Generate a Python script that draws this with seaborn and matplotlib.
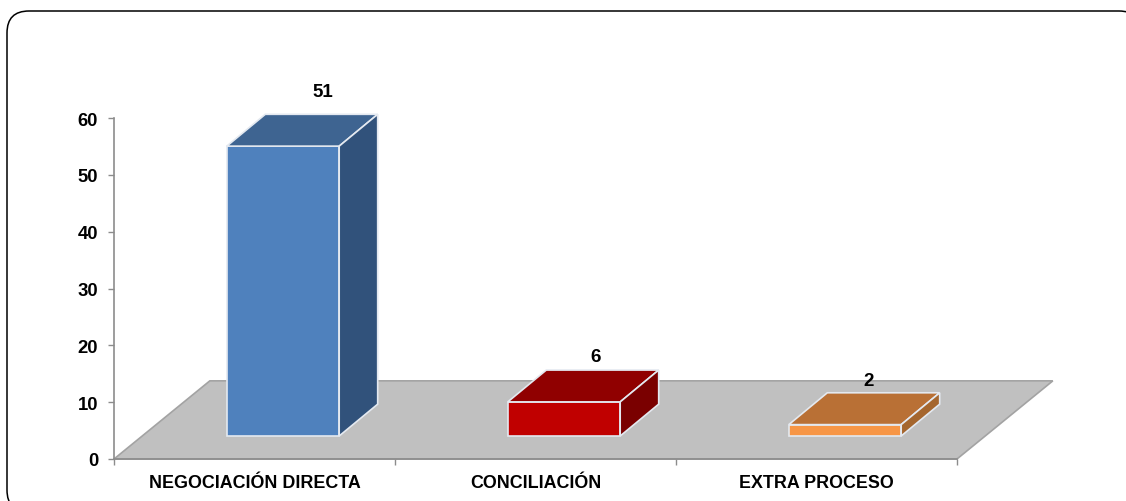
import matplotlib
matplotlib.use("Agg")
import matplotlib.pyplot as plt
from matplotlib.patches import FancyBboxPatch, Polygon
import seaborn as sns
import pandas as pd

categories = ["NEGOCIACIÓN DIRECTA", "CONCILIACIÓN", "EXTRA PROCESO"]
values = [51, 6, 2]
front_colors = ["#4f81bd", "#c00000", "#f79646"]
top_colors = ["#3e6491", "#900000", "#b97035"]
side_colors = ["#31527b", "#7a0000", "#a5662e"]
y_ticks = [0, 10, 20, 30, 40, 50, 60]

# pseudo 3d geometry, in data units
base = 4.05
shift = 0.1014
depth_x = 0.137
depth_y = 5.6
floor_x = 0.341
floor_y = 13.75
label_offsets = [(0.143, 9.7), (0.114, 8.0), (0.085, 7.75)]

W, H = 1126, 502

sns.set_theme(style="white")
plt.rcParams['font.family'] = ['Liberation Sans', 'DejaVu Sans']

fig = plt.figure(figsize=(W / 100, H / 100), dpi=100)
# the frame runs off the right and bottom edges of the picture
fig.add_artist(FancyBboxPatch((7 / W, (H - 513) / H), 1134 / W, 501 / H,
                              boxstyle="round,pad=0,rounding_size=0.0195",
                              mutation_aspect=W / H, zorder=-1,
                              transform=fig.transFigure, fc="white", ec="black", lw=1.1))

ax = fig.add_axes([114 / W, (H - 460) / H, 843 / W, 341 / H])
ax.patch.set_alpha(0)

df = pd.DataFrame({"cat": categories, "val": values})
sns.barplot(data=df, x="cat", y="val", hue="cat", palette=front_colors, legend=False,
            width=0.4, ax=ax, bottom=base, edgecolor="#e4e9f0", linewidth=1.2, saturation=1)
ax.set_xlim(-0.5, 2.5)
ax.set_ylim(0, 60)

ax.add_patch(Polygon([(-0.5, 0), (-0.5 + floor_x, floor_y), (2.5 + floor_x, floor_y), (2.5, 0)],
                     fc="#c0c0c0", ec="#a3a3a3", lw=1.2, clip_on=False, zorder=0.5))

for i, bar in enumerate(ax.patches[:3]):
    bar.set_x(bar.get_x() + shift)
    bar.set_zorder(3)
    x0 = bar.get_x()
    x1 = x0 + bar.get_width()
    y0 = bar.get_y()
    y1 = y0 + bar.get_height()
    ax.add_patch(Polygon([(x0, y1), (x0 + depth_x, y1 + depth_y), (x1 + depth_x, y1 + depth_y), (x1, y1)],
                         fc=top_colors[i], ec="#e4e9f0", lw=1.2, clip_on=False, zorder=3))
    ax.add_patch(Polygon([(x1, y0), (x1 + depth_x, y0 + depth_y), (x1 + depth_x, y1 + depth_y), (x1, y1)],
                         fc=side_colors[i], ec="#e4e9f0", lw=1.2, clip_on=False, zorder=3))
    ax.text(i + label_offsets[i][0] + shift, values[i] + base + label_offsets[i][1], str(values[i]),
            ha="center", va="center", fontsize=13.5, fontweight="bold", color="black", zorder=4)

sns.despine(ax=ax)
for s in ["left", "bottom"]:
    ax.spines[s].set_color("#8c8c8c")
    ax.spines[s].set_linewidth(1.2)

ax.set_xlabel("")
ax.set_ylabel("")
ax.set_yticks(y_ticks)
ax.set_xticks([-0.5, 0.5, 1.5, 2.5], minor=False)
ax.set_xticklabels([])
ax.tick_params(axis="both", which="major", length=4.5, width=1, color="#8c8c8c", left=True, bottom=True)
ax.tick_params(axis="y", pad=7, labelsize=13.3, labelcolor="black")
for lab in ax.get_yticklabels():
    lab.set_fontweight("bold")
for i, c in enumerate(categories):
    ax.annotate(c, (i, 0), xytext=(0, -24), xycoords="data", textcoords="offset pixels",
                ha="center", va="center", fontsize=12.9, fontweight="bold", color="black")

fig.savefig("out.png", dpi=100)
